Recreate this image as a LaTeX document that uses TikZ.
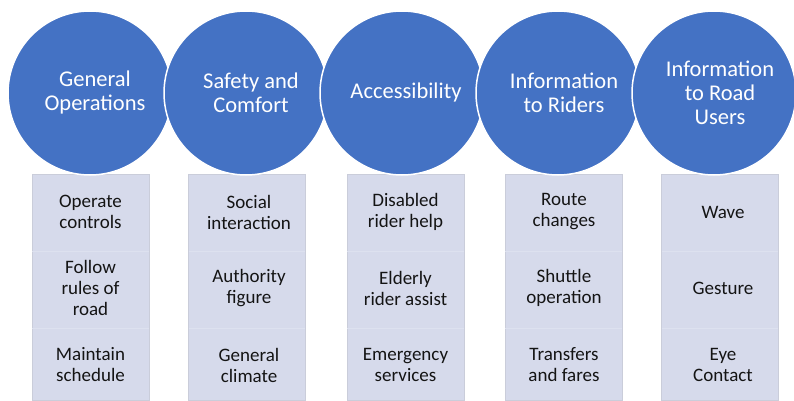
\documentclass[tikz,border=0pt]{standalone}
\usepackage{fontspec}
\setmainfont{Carlito}
\definecolor{cblue}{HTML}{4472C4}
\definecolor{boxfill}{HTML}{D6DAEB}
\definecolor{boxline}{HTML}{CACDDA}
\definecolor{txt}{HTML}{141414}
\begin{document}
\begin{tikzpicture}[x=1pt,y=-1pt,
  circ/.style={circle,fill=cblue,draw=white,line width=1.5pt,minimum size=164pt,inner sep=0pt},
  ctext/.style={text=white,align=center,font=\fontsize{22.5}{24}\selectfont,inner sep=0pt},
  colbox/.style={rectangle,fill=boxfill,draw=boxline,line width=0.6pt,minimum width=117pt,minimum height=226pt,inner sep=0pt,anchor=north},
  item/.style={text=txt,align=center,font=\fontsize{19}{21}\selectfont,inner sep=0pt},
  divider/.style={draw=white!18!boxfill,line width=0.6pt}]
\useasboundingbox (0,0) rectangle (794,401);
% boxes
\foreach \i/\x in {1/90.5,2/247,3/405.5,4/563.5,5/720}{
  \node[colbox] (b\i) at (\x,174) {};
  \draw[divider] ([xshift=0.5pt]b\i.west |- 0,251) -- ([xshift=-0.5pt]b\i.east |- 0,251);
  \draw[divider] ([xshift=0.5pt]b\i.west |- 0,328) -- ([xshift=-0.5pt]b\i.east |- 0,328);
}
% circles
\node[circ] (c1) at (90,93) {};
\node[ctext] (l1) at ([xshift=5pt]c1.center) {General\\Operations};
\node[circ] (c2) at (246,93) {};
\node[ctext] (l2) at ([xshift=5pt]c2.center) {Safety and\\Comfort};
\node[circ] (c3) at (402,93) {};
\node[ctext] (l3) at ([xshift=4pt]c3.center) {Accessibility};
\node[circ] (c4) at (558,93) {};
\node[ctext] (l4) at ([xshift=6pt]c4.center) {Information\\to Riders};
\node[circ] (c5) at (714,93) {};
\node[ctext] (l5) at ([xshift=6pt]c5.center) {Information\\to Road\\Users};
% items
\node[item] (t11) at (90.5,212) {Operate\\controls};
\node[item] (t12) at (90.5,288) {Follow\\rules of\\road};
\node[item] (t13) at (90.5,365) {Maintain\\schedule};
\node[item] (t21) at (249,212) {Social\\interaction};
\node[item] (t22) at (249,288) {Authority\\figure};
\node[item] (t23) at (249,365) {General\\climate};
\node[item] (t31) at (405.5,212) {Disabled\\rider help};
\node[item] (t32) at (405.5,288) {Elderly\\rider assist};
\node[item] (t33) at (405.5,365) {Emergency\\services};
\node[item] (t41) at (564,212) {Route\\changes};
\node[item] (t42) at (564,288) {Shuttle\\operation};
\node[item] (t43) at (564,365) {Transfers\\and fares};
\node[item] (t51) at (723,212) {Wave};
\node[item] (t52) at (723,288) {Gesture};
\node[item] (t53) at (723,365) {Eye\\Contact};
\end{tikzpicture}
\end{document}
